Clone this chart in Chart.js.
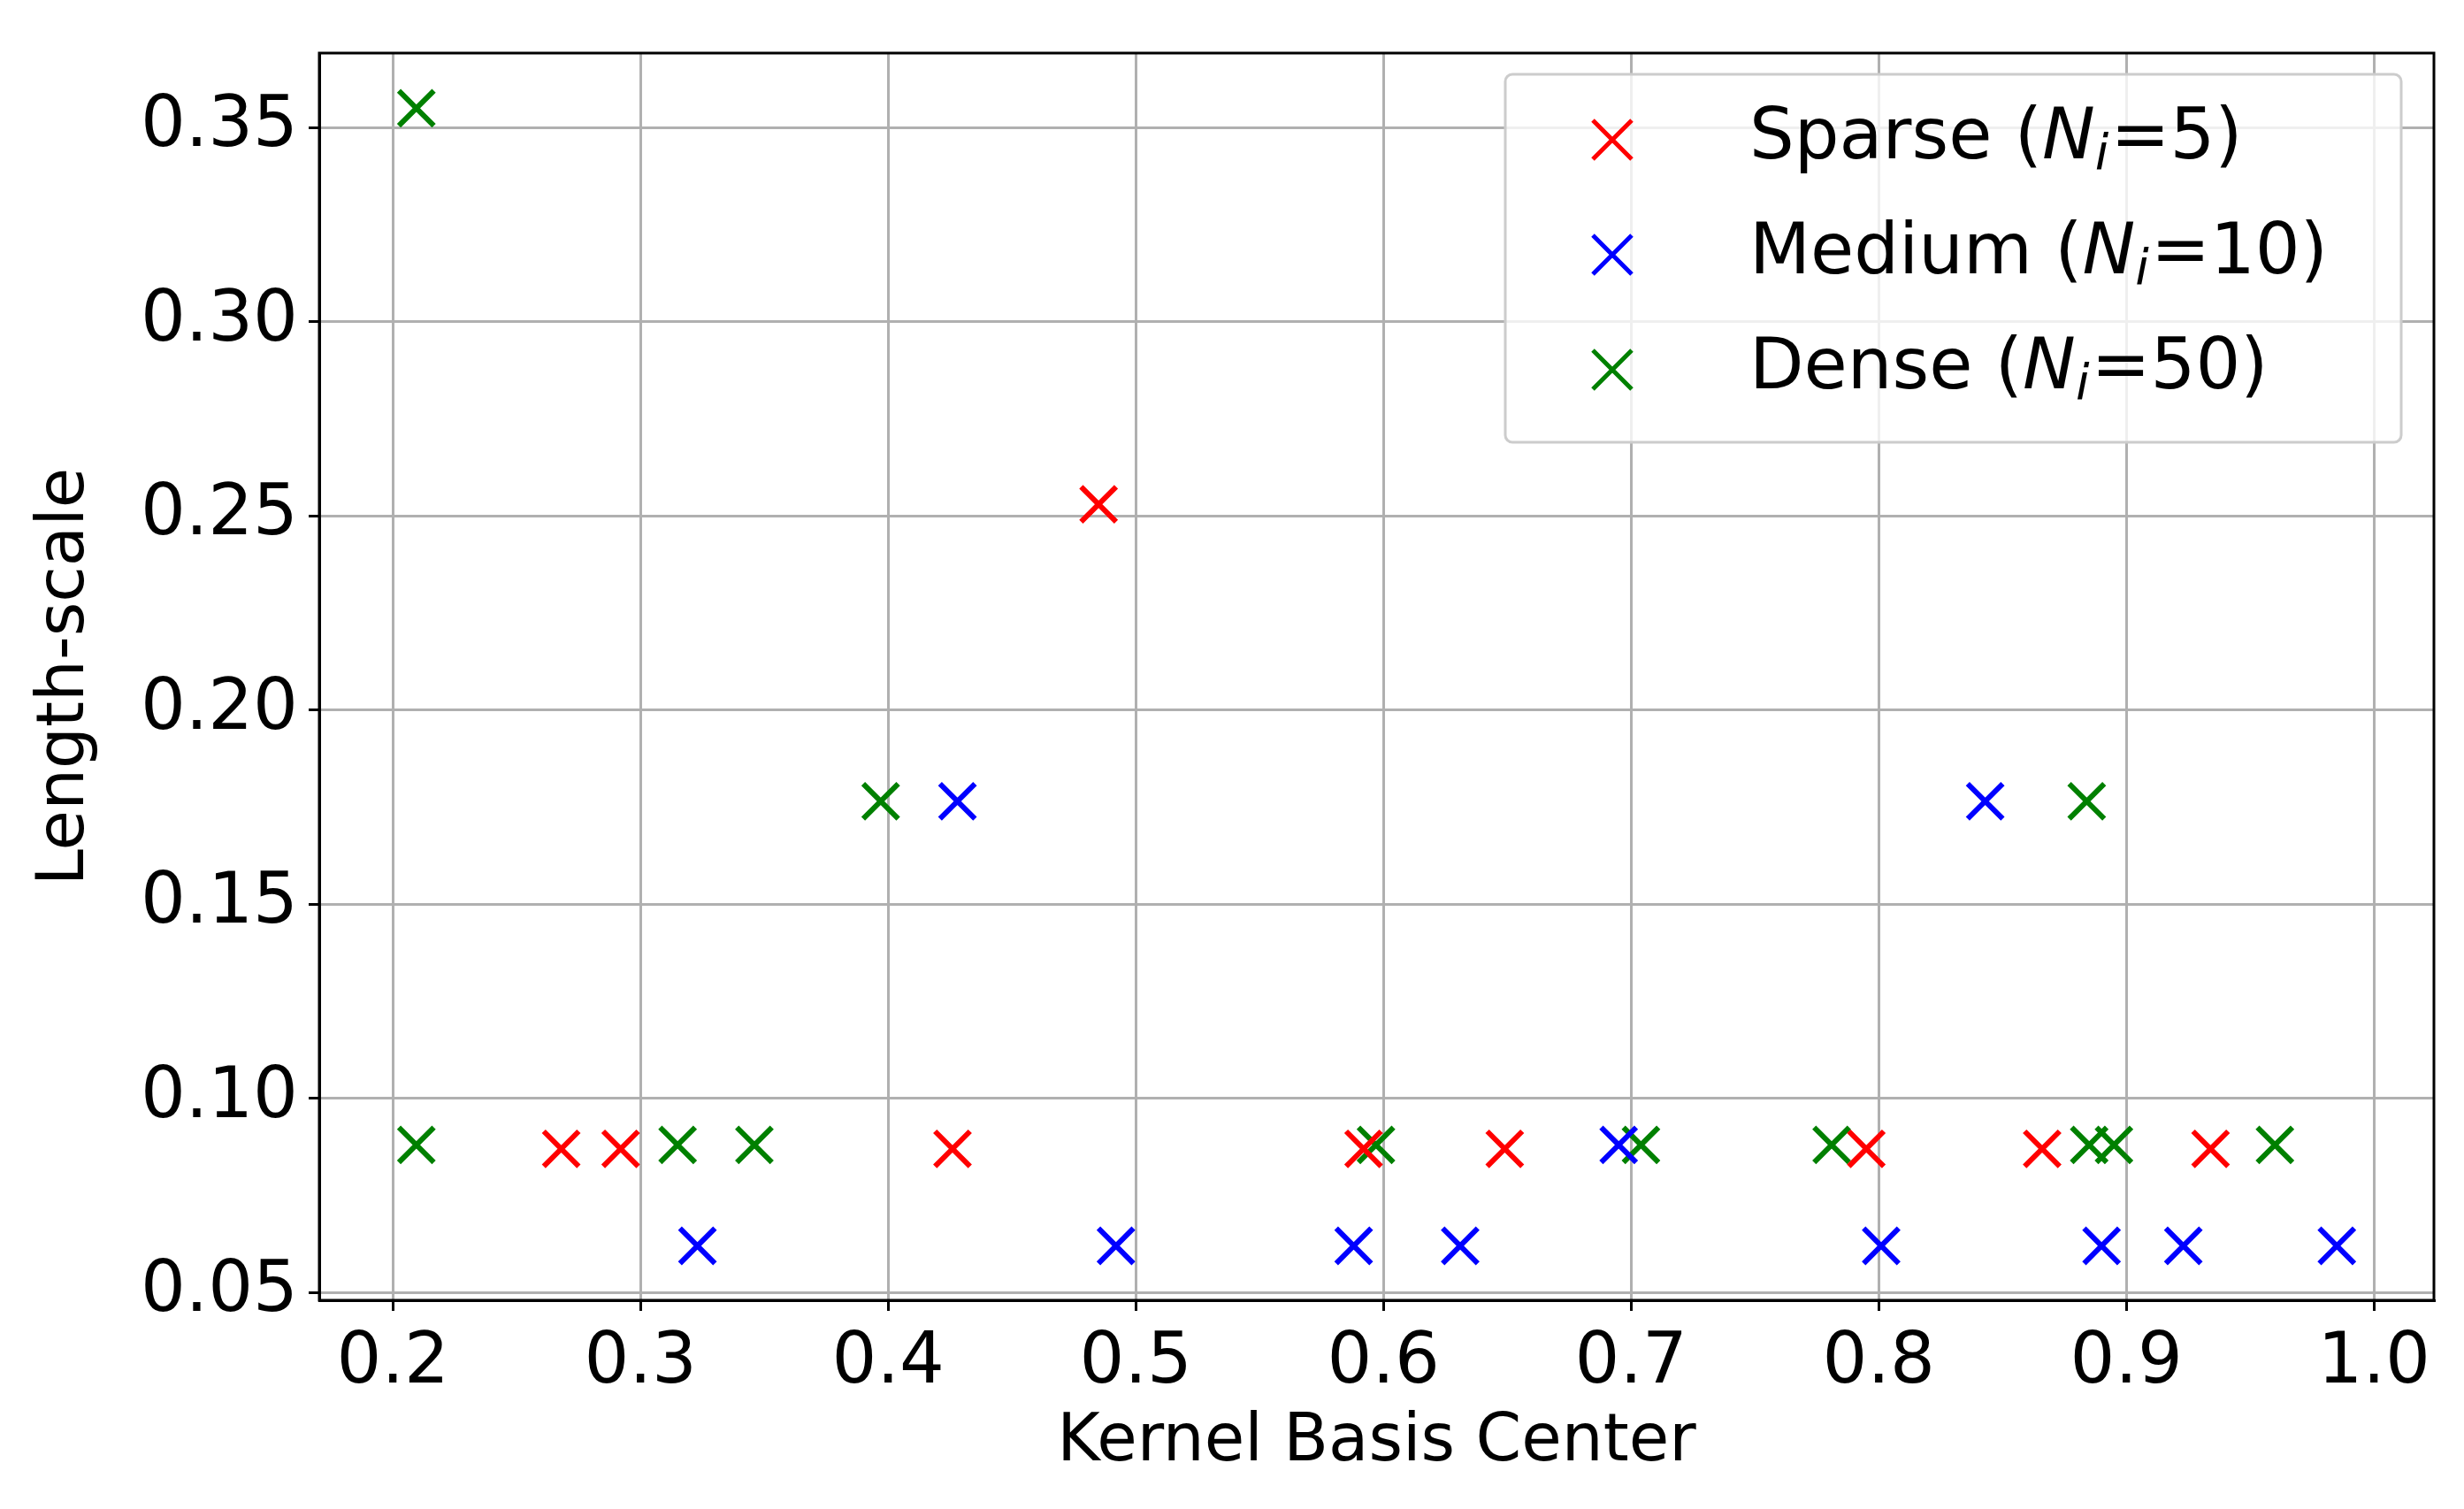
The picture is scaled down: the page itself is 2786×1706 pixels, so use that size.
<!DOCTYPE html>
<html>
<head>
<meta charset="utf-8">
<script src="https://cdn.jsdelivr.net/npm/chart.js@4"></script>
<style>
html,body{margin:0;padding:0;background:#fff;}
</style>
</head>
<body>
<canvas id="c" width="2786" height="1706"></canvas>
<script>
const sparseX = [0.268, 0.292, 0.426, 0.485, 0.592, 0.649, 0.795, 0.866, 0.934];
const sparseY = [0.087, 0.087, 0.087, 0.253, 0.087, 0.087, 0.087, 0.087, 0.087];
const mediumX = [0.323, 0.428, 0.492, 0.588, 0.631, 0.695, 0.801, 0.843, 0.890, 0.923, 0.985];
const mediumY = [0.062, 0.1765, 0.062, 0.062, 0.062, 0.088, 0.062, 0.1765, 0.062, 0.062, 0.062];
const denseX = [0.2095, 0.2095, 0.315, 0.346, 0.397, 0.597, 0.704, 0.781, 0.884, 0.885, 0.895, 0.960];
const denseY = [0.355, 0.088, 0.088, 0.088, 0.1765, 0.088, 0.088, 0.088, 0.1765, 0.088, 0.088, 0.088];
const seriesNames = ['Sparse', 'Medium', 'Dense'];
const seriesN = ['5', '10', '50'];
const seriesColors = ['#ff0000', '#0000ff', '#008000'];
const xTicks = [0.2, 0.3, 0.4, 0.5, 0.6, 0.7, 0.8, 0.9, 1.0];
const yTicks = [0.05, 0.10, 0.15, 0.20, 0.25, 0.30, 0.35];

function pts(xs, ys) { return xs.map((x, i) => ({x: x, y: ys[i]})); }
const allData = [pts(sparseX, sparseY), pts(mediumX, mediumY), pts(denseX, denseY)];

const FONT = 'DejaVu Sans';

// frame on all four sides + legend with italic N_i, drawn by hand
const legendPlugin = {
    id: 'mplLegend',
    afterDraw(chart) {
        const ctx = chart.ctx;
        const a = chart.chartArea;
        ctx.save();
        ctx.strokeStyle = '#000';
        ctx.lineWidth = 3;
        ctx.strokeRect(a.left, a.top, a.right - a.left, a.bottom - a.top);

        const x0 = 1702, y0 = 84, w = 1013, h = 416;
        ctx.fillStyle = 'rgba(255,255,255,0.8)';
        ctx.strokeStyle = '#cccccc';
        ctx.lineWidth = 3;
        ctx.beginPath();
        ctx.roundRect(x0, y0, w, h, 8);
        ctx.fill();
        ctx.stroke();
        for (let i = 0; i < 3; i++) {
            const cy = y0 + 74 + i * 130;
            const mx = 1823, r = 22;
            ctx.strokeStyle = seriesColors[i];
            ctx.lineWidth = 5;
            ctx.beginPath();
            ctx.moveTo(mx - r, cy - r); ctx.lineTo(mx + r, cy + r);
            ctx.moveTo(mx - r, cy + r); ctx.lineTo(mx + r, cy - r);
            ctx.stroke();
            ctx.fillStyle = '#000';
            ctx.textBaseline = 'middle';
            let tx = 1978;
            ctx.font = '80px ' + FONT;
            const s = seriesNames[i] + ' (';
            ctx.fillText(s, tx, cy); tx += ctx.measureText(s).width;
            ctx.font = 'italic 80px ' + FONT;
            ctx.fillText('N', tx, cy); tx += ctx.measureText('N').width;
            ctx.font = 'italic 56px ' + FONT;
            ctx.fillText('i', tx, cy + 18); tx += ctx.measureText('i').width + 2;
            ctx.font = '80px ' + FONT;
            ctx.fillText('=' + seriesN[i] + ')', tx, cy);
        }
        ctx.restore();
    }
};

new Chart(document.getElementById('c'), {
    type: 'scatter',
    data: {
        datasets: allData.map((d, i) => ({
            label: seriesNames[i],
            data: d,
            pointStyle: 'crossRot',
            pointRadius: 28,
            pointHoverRadius: 28,
            borderColor: seriesColors[i],
            backgroundColor: seriesColors[i],
            pointBorderWidth: 6
        }))
    },
    options: {
        responsive: false,
        animation: false,
        devicePixelRatio: 1,
        layout: { padding: { top: 22, right: 26, left: 0, bottom: 0 } },
        plugins: { legend: { display: false }, tooltip: { enabled: false } },
        scales: {
            x: {
                type: 'linear', min: 0.1703, max: 1.0242,
                afterBuildTicks: s => { s.ticks = xTicks.map(v => ({value: v})); },
                afterFit: s => { s.height = 236; },
                ticks: { color: '#000', font: { family: FONT, size: 80 }, padding: 12,
                    callback: v => v.toFixed(1) },
                grid: { color: '#b0b0b0', lineWidth: 3, tickLength: 12, tickColor: '#000' },
                border: { color: '#000', width: 3 },
                title: { display: true, text: 'Kernel Basis Center', color: '#000',
                    font: { family: FONT, size: 74 }, padding: { top: 0, bottom: 30 } }
            },
            y: {
                type: 'linear', min: 0.048, max: 0.3692,
                afterBuildTicks: s => { s.ticks = yTicks.map(v => ({value: v})); },
                afterFit: s => { s.width = 361; },
                ticks: { color: '#000', font: { family: FONT, size: 80 }, padding: 12,
                    callback: v => v.toFixed(2) },
                grid: { color: '#b0b0b0', lineWidth: 3, tickLength: 12, tickColor: '#000' },
                border: { color: '#000', width: 3 },
                title: { display: true, text: 'Length-scale', color: '#000',
                    font: { family: FONT, size: 74 }, padding: { top: 30, bottom: 0 } }
            }
        }
    },
    plugins: [legendPlugin]
});
</script>
</body>
</html>
